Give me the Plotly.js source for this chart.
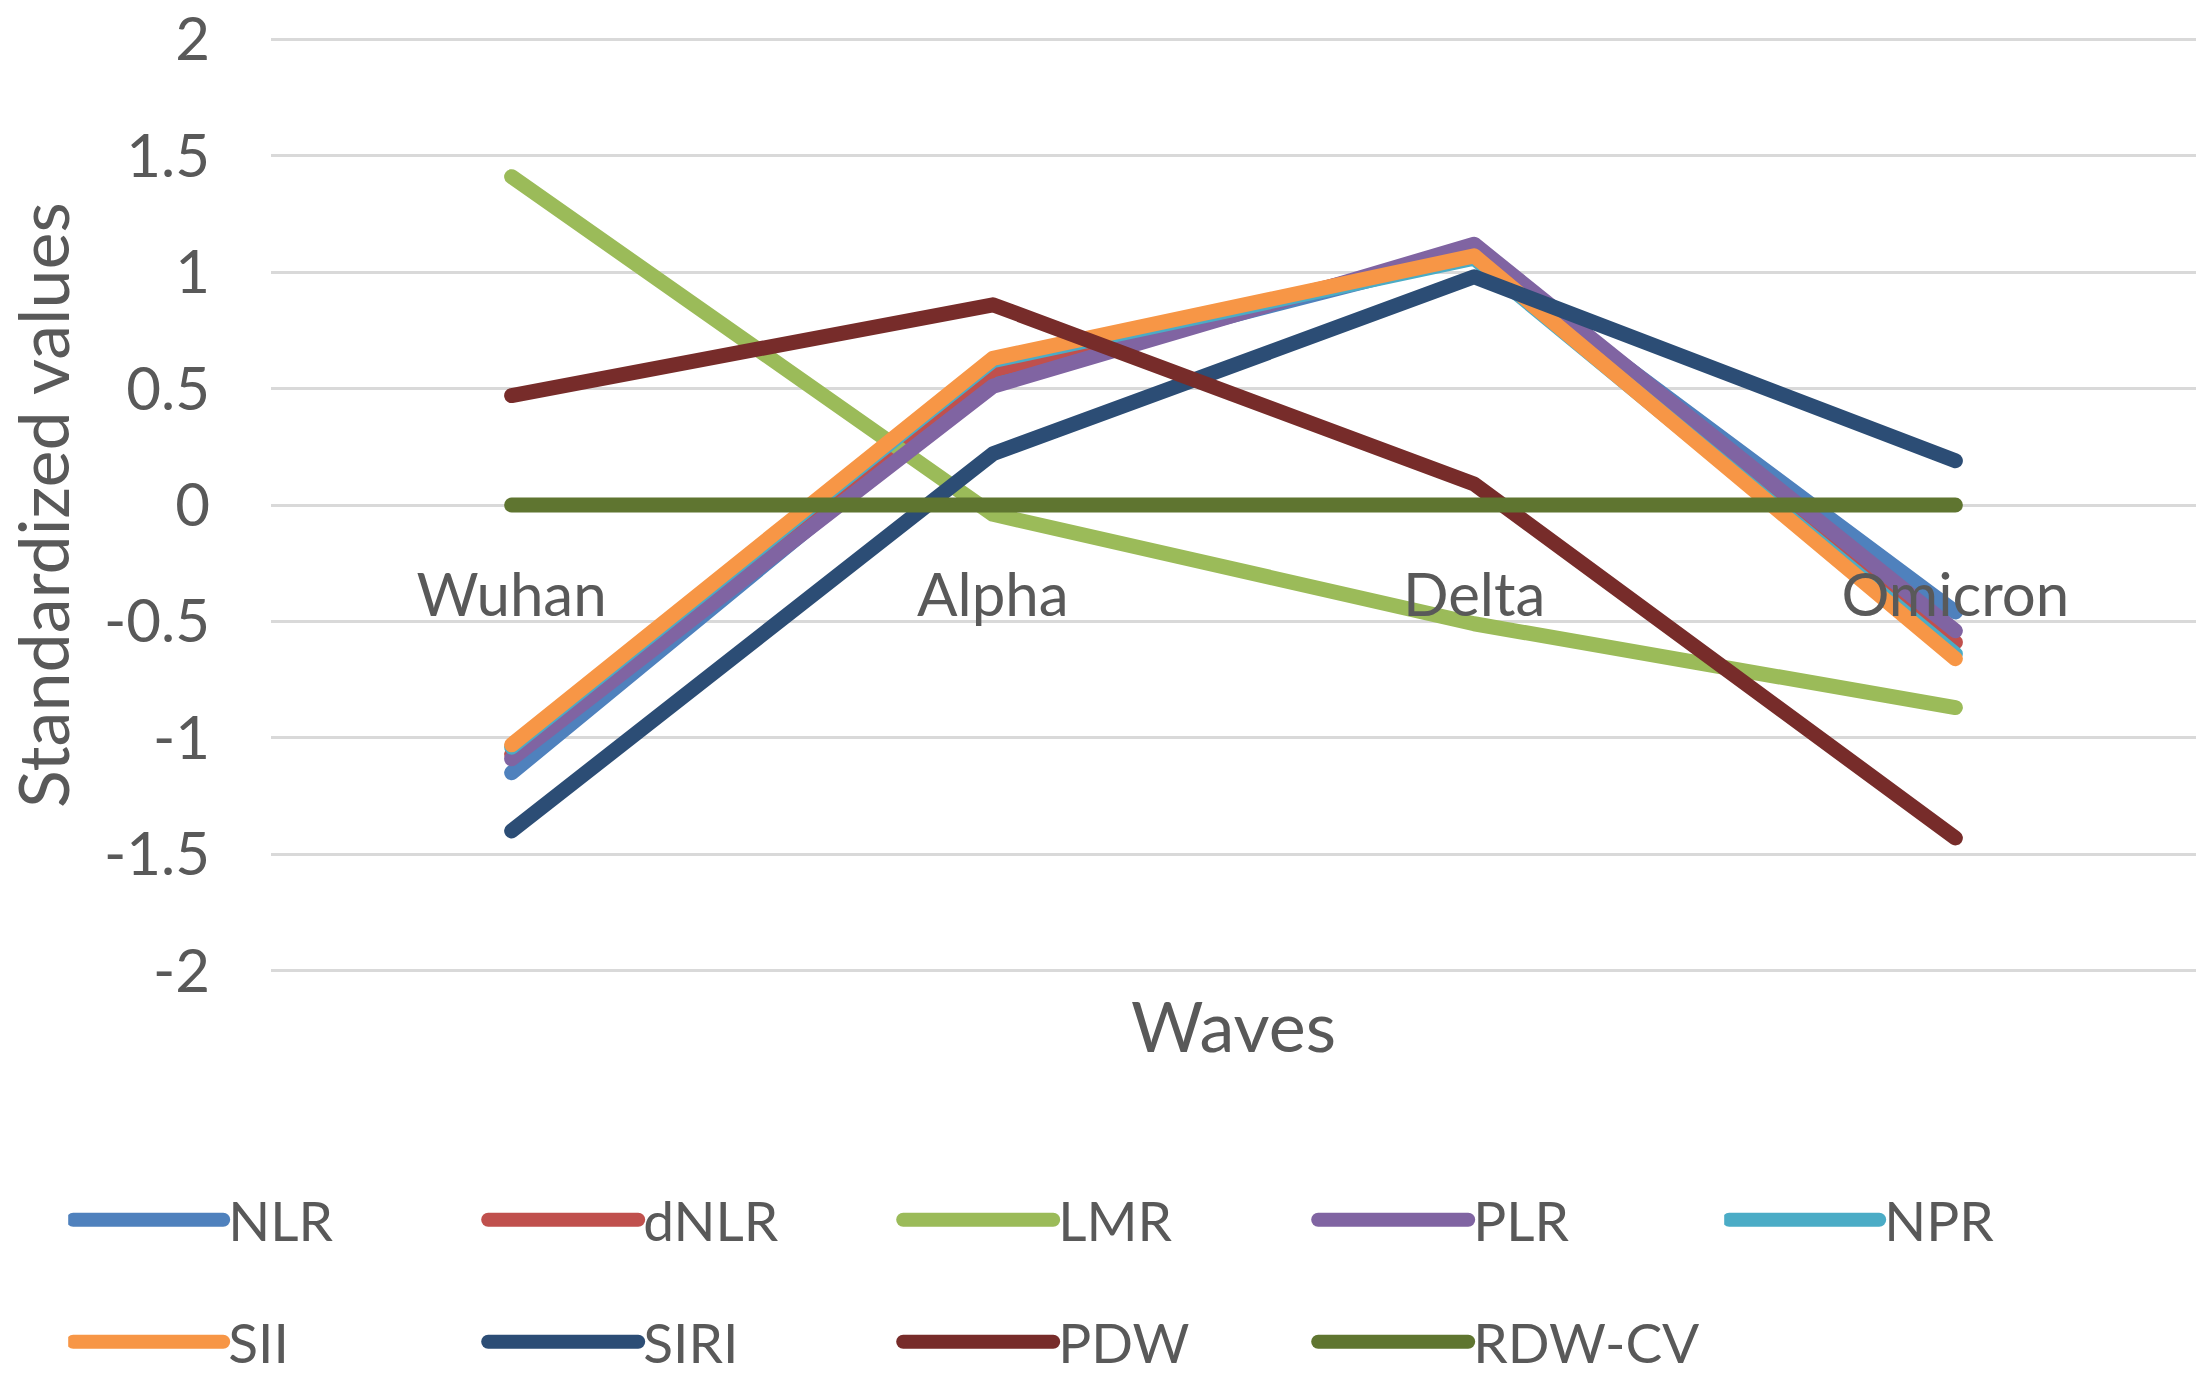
<!DOCTYPE html>
<html>
<head>
<meta charset="utf-8">
<script src="https://cdn.plot.ly/plotly-3.0.1.min.js"></script>
<style>
  html, body { margin: 0; padding: 0; background: #fff; }
  #chart { width: 2200px; height: 1380px; }
  .scatterlayer path.js-line { stroke-linecap: round; stroke-linejoin: round; }
  .legendlines path.js-line { stroke-linecap: round; stroke-width: 14px !important; }
</style>
</head>
<body>
<div id="chart"></div>
<script>
var waves = ['Wuhan', 'Alpha', 'Delta', 'Omicron'];

var nlr    = [-1.15, 0.55, 1.08, -0.46];
var dnlr   = [-1.07, 0.58, 1.09, -0.59];
var lmr    = [1.41, -0.04, -0.51, -0.87];
var plr    = [-1.09, 0.51, 1.12, -0.54];
var npr    = [-1.04, 0.62, 1.06, -0.64];
var sii    = [-1.03, 0.63, 1.07, -0.66];
var siri   = [-1.40, 0.22, 0.98, 0.19];
var pdw    = [0.47, 0.86, 0.09, -1.43];
var rdwcv  = [0, 0, 0, 0];

var seriesNames  = ['NLR', 'dNLR', 'LMR', 'PLR', 'NPR', 'SII', 'SIRI', 'PDW', 'RDW-CV'];
var seriesValues = [nlr, dnlr, lmr, plr, npr, sii, siri, pdw, rdwcv];
var seriesColors = ['#4F81BD', '#C0504D', '#9BBB59', '#8064A2', '#4BACC6',
                    '#F79646', '#2C4D75', '#772C2A', '#5F7530'];
// which legend box each series goes in (5 per row in the original)
var seriesLegend = ['legend', 'legend', 'legend', 'legend', 'legend3',
                    'legend2', 'legend2', 'legend2', 'legend2'];

var yTickVals   = [-2, -1.5, -1, -0.5, 0, 0.5, 1, 1.5, 2];
var yTickLabels = ['-2', '-1.5', '-1', '-0.5', '0', '0.5', '1', '1.5', '2'];

var textColor = '#595959';
var fontFam = 'Lato, "Open Sans", sans-serif';

var traces = seriesNames.map(function (name, i) {
    return {
        x: waves,
        y: seriesValues[i],
        type: 'scatter',
        mode: 'lines',
        name: name,
        line: { color: seriesColors[i], width: 15 },
        legend: seriesLegend[i]
    };
});

var legendBase = {
    orientation: 'h',
    xref: 'container',
    yref: 'container',
    xanchor: 'left',
    yanchor: 'middle',
    x: 0.031,
    font: { size: 55, color: textColor, family: fontFam },
    itemwidth: 150,
    entrywidth: 250,
    entrywidthmode: 'pixels',
    bgcolor: 'rgba(0,0,0,0)',
    traceorder: 'normal'
};

var row1 = 1 - 1220 / 1380;
var row2 = 1 - 1342 / 1380;

var layout = {
    width: 2200,
    height: 1380,
    paper_bgcolor: '#fff',
    plot_bgcolor: '#fff',
    margin: { l: 271, r: 4, t: 37, b: 407 },
    font: { family: fontFam, color: textColor },
    showlegend: true,
    xaxis: {
        type: 'category',
        range: [-0.5, 3.5],
        anchor: 'free',
        position: 0.5,
        showgrid: false,
        zeroline: false,
        showline: false,
        ticks: '',
        ticklabelstandoff: 50,
        tickfont: { size: 60, color: textColor },
        title: { text: 'Waves', font: { size: 70, color: textColor }, standoff: 374 },
        automargin: false
    },
    yaxis: {
        range: [-2.01, 2.01],
        tickmode: 'array',
        tickvals: yTickVals,
        ticktext: yTickLabels,
        ticklabeloverflow: 'allow',
        showgrid: true,
        gridcolor: '#D9D9D9',
        gridwidth: 3,
        zeroline: false,
        showline: false,
        ticks: '',
        ticklabelstandoff: 60,
        tickfont: { size: 60, color: textColor },
        title: { text: 'Standardized values', font: { size: 70, color: textColor }, standoff: 22 },
        automargin: false
    },
    legend: Object.assign({}, legendBase, { y: row1 }),
    legend3: Object.assign({}, legendBase, { y: row1, x: 0.031 + 1656 / 2200 }),
    legend2: Object.assign({}, legendBase, { y: row2 })
};

Plotly.newPlot('chart', traces, layout, { staticPlot: true, displayModeBar: false });
</script>
</body>
</html>
